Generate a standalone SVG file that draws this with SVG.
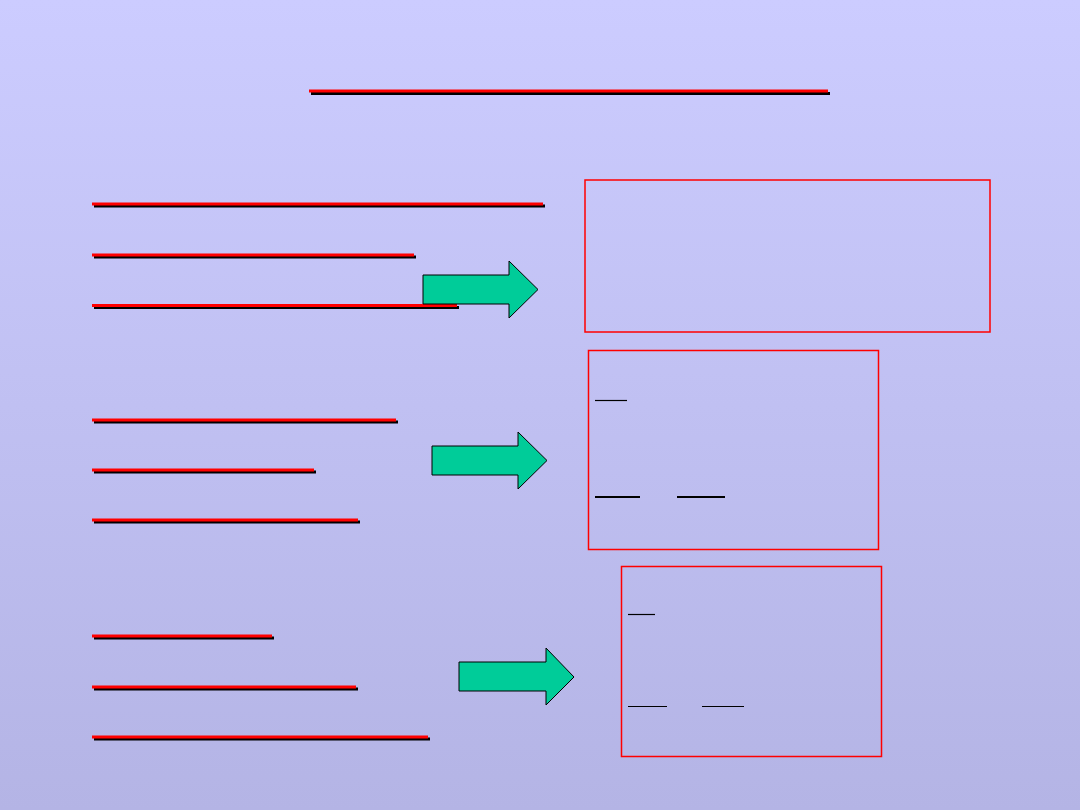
<svg xmlns="http://www.w3.org/2000/svg" width="1080" height="810" viewBox="0 0 1080 810">
<defs>
<linearGradient id="bg" x1="0" y1="0" x2="0" y2="1">
<stop offset="0" stop-color="#CCCCFF"/>
<stop offset="1" stop-color="#B4B4E5"/>
</linearGradient>
<style>
.sh{stroke:#000;stroke-width:3}
.ul{stroke:#FF0000;stroke-width:3}
.box{fill:none;stroke:#FF0000;stroke-width:1.5}
.arr{fill:#00CC99;stroke:#000;stroke-width:1}
.in{stroke:#000;stroke-width:1.2}
</style>
</defs>
<rect x="0" y="0" width="1080" height="810" fill="url(#bg)"/>
<g id="title">
<line class="sh" x1="311" y1="93.5" x2="830" y2="93.5"/>
<line class="ul" x1="309" y1="91" x2="828" y2="91"/>
</g>
<g id="group1">
<line class="sh" x1="94" y1="206" x2="545" y2="206"/>
<line class="ul" x1="92" y1="204" x2="543" y2="204"/>
<line class="sh" x1="94" y1="257" x2="416" y2="257"/>
<line class="ul" x1="92" y1="255" x2="414" y2="255"/>
<line class="sh" x1="94" y1="307.5" x2="459" y2="307.5"/>
<line class="ul" x1="92" y1="305.5" x2="457" y2="305.5"/>
</g>
<g id="group2">
<line class="sh" x1="94" y1="422" x2="398" y2="422"/>
<line class="ul" x1="92" y1="420" x2="396" y2="420"/>
<line class="sh" x1="94" y1="472" x2="316" y2="472"/>
<line class="ul" x1="92" y1="470" x2="314" y2="470"/>
<line class="sh" x1="94" y1="522" x2="360" y2="522"/>
<line class="ul" x1="92" y1="520" x2="358" y2="520"/>
</g>
<g id="group3">
<line class="sh" x1="94" y1="638" x2="274" y2="638"/>
<line class="ul" x1="92" y1="636" x2="272" y2="636"/>
<line class="sh" x1="94" y1="689" x2="358" y2="689"/>
<line class="ul" x1="92" y1="687" x2="356" y2="687"/>
<line class="sh" x1="94" y1="739" x2="430" y2="739"/>
<line class="ul" x1="92" y1="737" x2="428" y2="737"/>
</g>
<g id="arrow1">
<polygon class="arr" points="423,275 509,275 509,261 538,289.5 509,318 509,304 423,304"/>
</g>
<g id="arrow2">
<polygon class="arr" points="432,446 518,446 518,432 547,460.5 518,489 518,475 432,475"/>
</g>
<g id="arrow3">
<polygon class="arr" points="459,662 546,662 546,648 574,677 546,705 546,691 459,691"/>
</g>
<g id="box1">
<rect class="box" x="585" y="180" width="405" height="152"/>
</g>
<g id="box2">
<rect class="box" x="588.5" y="350.5" width="290" height="199"/>
<line class="in" x1="595" y1="400.5" x2="627" y2="400.5"/>
<line class="in" x1="595" y1="497" x2="640" y2="497" style="stroke-width:2"/>
<line class="in" x1="677" y1="497" x2="725" y2="497" style="stroke-width:2"/>
</g>
<g id="box3">
<rect class="box" x="621.5" y="566.5" width="260" height="190"/>
<line class="in" x1="628" y1="614.5" x2="655" y2="614.5"/>
<line class="in" x1="628" y1="706.5" x2="667" y2="706.5"/>
<line class="in" x1="702" y1="706.5" x2="744" y2="706.5"/>
</g>
</svg>
